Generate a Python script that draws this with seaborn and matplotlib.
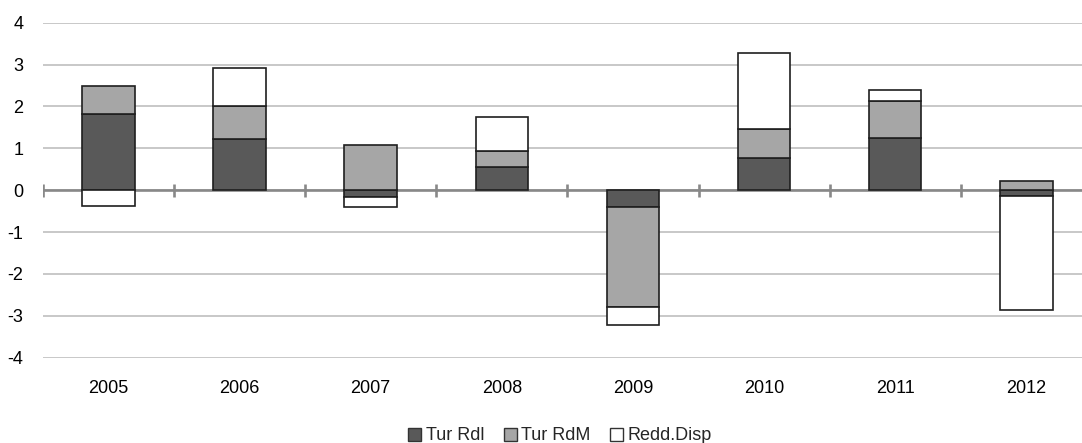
import numpy as np
import matplotlib
matplotlib.use("Agg")
import matplotlib.pyplot as plt
import seaborn as sns
from matplotlib.patches import Patch

# Contributions by year (percentage points)
years = ["2005", "2006", "2007", "2008", "2009", "2010", "2011", "2012"]
tur_rdl = [1.83, 1.22, -0.16, 0.56, -0.39, 0.77, 1.25, -0.13]
tur_rdm = [0.65, 0.80, 1.08, 0.37, -2.40, 0.70, 0.87, 0.23]
redd_disp = [-0.38, 0.89, -0.23, 0.82, -0.42, 1.80, 0.27, -2.72]

series_names = ["Tur Rdl", "Tur RdM", "Redd.Disp"]
series_colors = ["#595959", "#a6a6a6", "#ffffff"]
y_ticks = [-4, -3, -2, -1, 0, 1, 2, 3, 4]

sns.set_theme(style="white")
plt.rcParams["font.family"] = ["Liberation Sans", "DejaVu Sans"]
plt.rcParams["axes.unicode_minus"] = False

FS = 13
EDGE = "#1f1f1f"

fig = plt.figure(figsize=(10.82, 4.43), dpi=100)
ax = fig.add_axes([0.0395, 0.1925, 1 - 0.0395, 0.7563])

# Stacked bars: positives build upward from zero, negatives downward
pos_base = np.zeros(len(years))
neg_base = np.zeros(len(years))
for name, vals, col in zip(series_names, [tur_rdl, tur_rdm, redd_disp], series_colors):
    v = np.asarray(vals, dtype=float)
    bottom = np.where(v >= 0, pos_base, neg_base)
    sns.barplot(x=years, y=v, bottom=bottom, color=col, saturation=1,
                edgecolor=EDGE, linewidth=1.2, width=0.4, errorbar=None,
                ax=ax, zorder=3)
    pos_base = np.where(v >= 0, pos_base + v, pos_base)
    neg_base = np.where(v < 0, neg_base + v, neg_base)

# Horizontal gridlines and the zero axis with category separators
ax.set_ylim(-4, 4)
ax.set_yticks(y_ticks)
ax.set_yticklabels([str(t) for t in y_ticks])
ax.yaxis.grid(True, color="#c4c4c4", linewidth=1.3, zorder=0)
ax.set_axisbelow(True)
ax.axhline(0, color="#888888", linewidth=1.9, zorder=2)
ax.vlines(np.arange(-0.5, len(years), 1.0), -0.16, 0.16,
          color="#888888", linewidth=1.9, zorder=2)

ax.set_xlim(-0.5, len(years) - 0.5 - 10 / 131.2)
for s in ax.spines.values():
    s.set_visible(False)
ax.tick_params(axis="x", length=0, pad=16, labelsize=FS, colors="#000000")
ax.tick_params(axis="y", length=0, pad=14, labelsize=FS, colors="#000000")
ax.set_xlabel("")
ax.set_ylabel("")

handles = [Patch(facecolor=c, edgecolor="#333333", linewidth=1.0, label=n)
           for n, c in zip(series_names, series_colors)]
fig.legend(handles=handles, loc="center", bbox_to_anchor=(560 / 1082, 1 - 436 / 443),
           ncol=3, frameon=False, fontsize=FS, handlelength=0.7, handleheight=0.7,
           handletextpad=0.25, columnspacing=1.1, borderpad=0, borderaxespad=0)

fig.savefig("out.png", dpi=100)
